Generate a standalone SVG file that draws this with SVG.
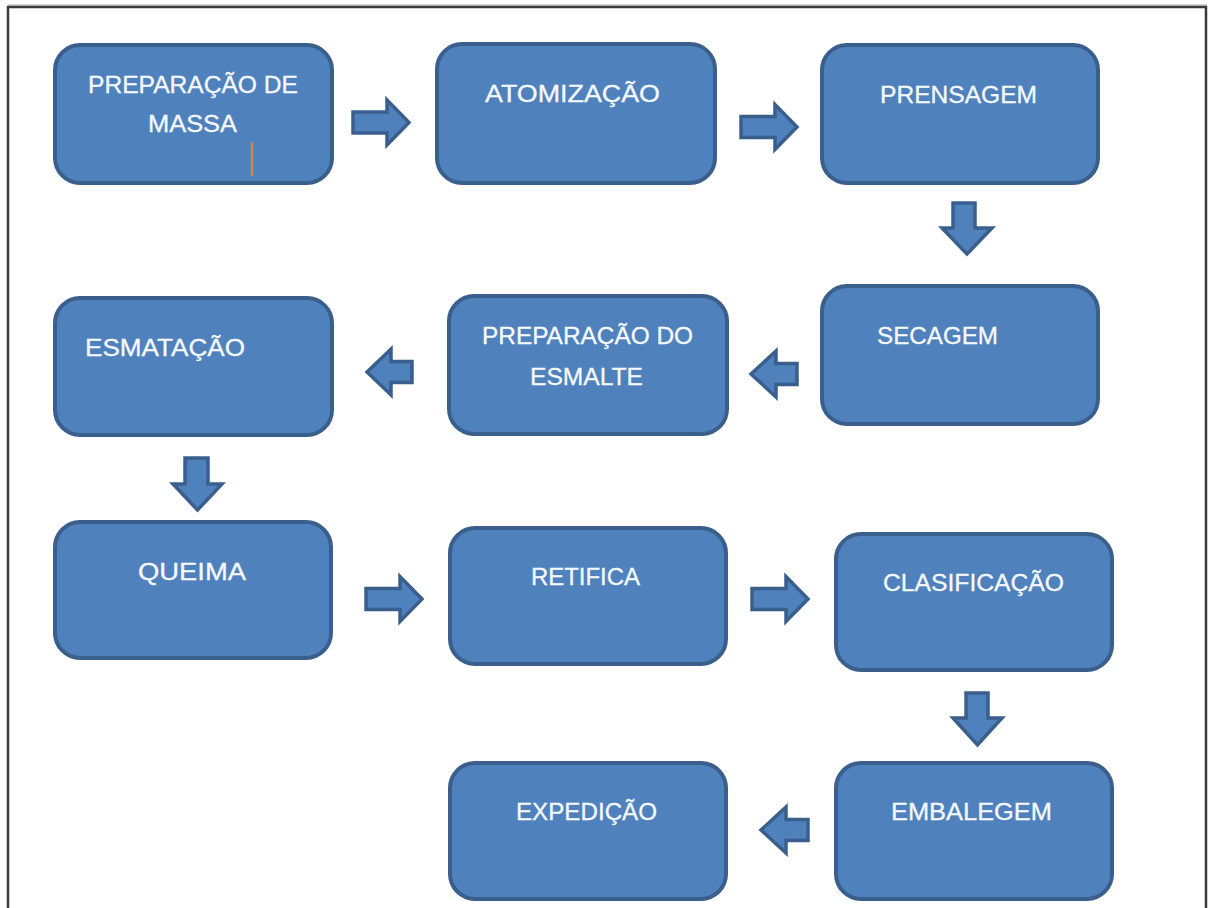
<svg xmlns="http://www.w3.org/2000/svg" width="1209" height="908" viewBox="0 0 1209 908">
<defs>
<style>
.box{fill:#4F81BD;stroke:#3A5F8C;stroke-width:4}
.arr{fill:#4F81BD;stroke:#3A5F8C;stroke-width:3.5;stroke-linejoin:miter}
.t{font-family:"Liberation Sans","Open Sans",sans-serif;font-size:24px;fill:#F6F9FF;stroke:#F6F9FF;stroke-width:0.3}
</style>
</defs>
<rect width="1209" height="908" fill="#ffffff"/>
<g id="frame">
<line x1="8" y1="5" x2="1207" y2="5" stroke="#aaaaaa" stroke-width="1"/>
<path d="M8 910 L8 7 L1206 7 L1206 910" fill="none" stroke="#3a3a3a" stroke-width="2.5"/>
</g>
<g id="connectors">
<polygon class="arr" points="353,112 387,112 387,100 409,122.5 387,145 387,133 353,133"/>
<polygon class="arr" points="741,116.5 775,116.5 775,104.5 797,127 775,149.5 775,137.5 741,137.5"/>
<polygon class="arr" points="953,203 975,203 975,228 992,228 967,254 942,228 953,228"/>
<polygon class="arr" points="797,363.5 776,363.5 776,351 751,374 776,397 776,384.5 797,384.5"/>
<polygon class="arr" points="412,361.5 391,361.5 391,349 367,372 391,395 391,382.5 412,382.5"/>
<polygon class="arr" points="185,458 208,458 208,484 222,484 197.5,510 173,484 185,484"/>
<polygon class="arr" points="366,588.5 400,588.5 400,576.5 422,599 400,621.5 400,609.5 366,609.5"/>
<polygon class="arr" points="752,588.5 786,588.5 786,576.5 808,599 786,621.5 786,609.5 752,609.5"/>
<polygon class="arr" points="966,693 988,693 988,718 1002,718 977.5,745 953,718 966,718"/>
<polygon class="arr" points="808,819.5 786,819.5 786,807 761,830 786,853 786,840.5 808,840.5"/>
</g>
<g id="n1">
<rect class="box" x="55" y="45" width="277" height="138" rx="25"/>
<text class="t" x="88" y="93" textLength="210" lengthAdjust="spacingAndGlyphs">PREPARAÇÃO DE</text>
<text class="t" x="148" y="132" textLength="89" lengthAdjust="spacingAndGlyphs">MASSA</text>
<line x1="252" y1="142" x2="252" y2="176" stroke="#C08A4A" stroke-width="2.5"/>
</g>
<g id="n2">
<rect class="box" x="437" y="44" width="278" height="139" rx="25"/>
<text class="t" x="485" y="102" textLength="175" lengthAdjust="spacingAndGlyphs">ATOMIZAÇÃO</text>
</g>
<g id="n3">
<rect class="box" x="822" y="45" width="276" height="138" rx="25"/>
<text class="t" x="880" y="103" textLength="157" lengthAdjust="spacingAndGlyphs">PRENSAGEM</text>
</g>
<g id="n4">
<rect class="box" x="822" y="286" width="276" height="138" rx="25"/>
<text class="t" x="877" y="344" textLength="121" lengthAdjust="spacingAndGlyphs">SECAGEM</text>
</g>
<g id="n5">
<rect class="box" x="449" y="296" width="278" height="138" rx="25"/>
<text class="t" x="482" y="344" textLength="211" lengthAdjust="spacingAndGlyphs">PREPARAÇÃO DO</text>
<text class="t" x="530" y="385" textLength="113" lengthAdjust="spacingAndGlyphs">ESMALTE</text>
</g>
<g id="n6">
<rect class="box" x="55" y="298" width="277" height="137" rx="25"/>
<text class="t" x="85" y="356" textLength="160" lengthAdjust="spacingAndGlyphs">ESMATAÇÃO</text>
</g>
<g id="n7">
<rect class="box" x="55" y="522" width="276" height="136" rx="25"/>
<text class="t" x="138" y="580" textLength="108" lengthAdjust="spacingAndGlyphs">QUEIMA</text>
</g>
<g id="n8">
<rect class="box" x="450" y="528" width="276" height="136" rx="25"/>
<text class="t" x="531" y="585" textLength="109" lengthAdjust="spacingAndGlyphs">RETIFICA</text>
</g>
<g id="n9">
<rect class="box" x="836" y="534" width="276" height="136" rx="25"/>
<text class="t" x="883" y="591" textLength="181" lengthAdjust="spacingAndGlyphs">CLASIFICAÇÃO</text>
</g>
<g id="n10">
<rect class="box" x="836" y="763" width="276" height="136" rx="25"/>
<text class="t" x="891" y="820" textLength="161" lengthAdjust="spacingAndGlyphs">EMBALEGEM</text>
</g>
<g id="n11">
<rect class="box" x="450" y="763" width="276" height="136" rx="25"/>
<text class="t" x="516" y="820" textLength="141" lengthAdjust="spacingAndGlyphs">EXPEDIÇÃO</text>
</g>
</svg>
